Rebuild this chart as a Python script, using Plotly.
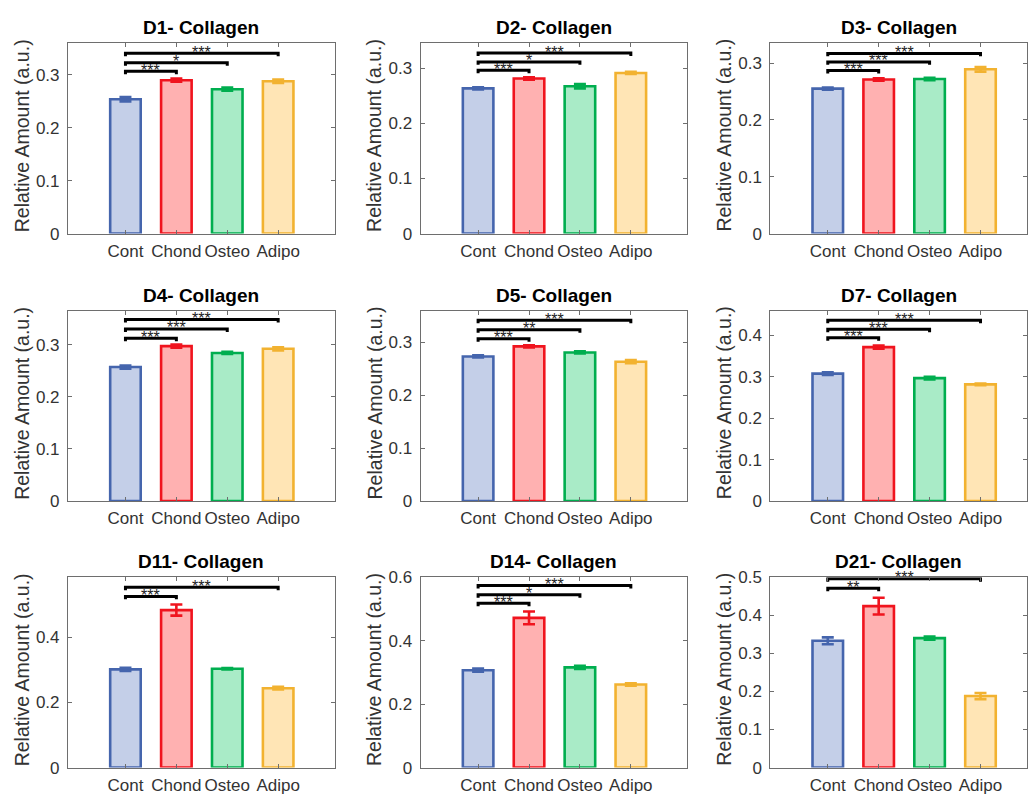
import plotly.graph_objects as go

# ---------------- data ----------------
panel_titles = ["D1- Collagen", "D2- Collagen", "D3- Collagen",
                "D4- Collagen", "D5- Collagen", "D7- Collagen",
                "D11- Collagen", "D14- Collagen", "D21- Collagen"]
categories = ["Cont", "Chond", "Osteo", "Adipo"]

cont_mean  = [0.254, 0.263, 0.255, 0.257, 0.2735, 0.308, 0.302, 0.307, 0.333]
chond_mean = [0.290, 0.281, 0.271, 0.297, 0.2925, 0.372, 0.484, 0.472, 0.424]
osteo_mean = [0.273, 0.267, 0.272, 0.284, 0.281, 0.297, 0.304, 0.316, 0.340]
adipo_mean = [0.288, 0.291, 0.289, 0.292, 0.2635, 0.282, 0.244, 0.262, 0.188]

cont_err  = [0.004, 0.002, 0.002, 0.003, 0.002, 0.003, 0.005, 0.005, 0.009]
chond_err = [0.003, 0.002, 0.002, 0.003, 0.002, 0.004, 0.017, 0.020, 0.022]
osteo_err = [0.003, 0.004, 0.002, 0.002, 0.002, 0.003, 0.002, 0.005, 0.004]
adipo_err = [0.003, 0.002, 0.004, 0.003, 0.003, 0.002, 0.004, 0.004, 0.008]

y_max   = [0.36, 0.345, 0.335, 0.365, 0.36, 0.46, 0.585, 0.6001, 0.50]
y_dtick = [0.1, 0.1, 0.1, 0.1, 0.1, 0.1, 0.2, 0.2, 0.1]

sig_targets = [[2, 3, 4], [2, 3, 4], [2, 3, 4],
               [2, 3, 4], [2, 3, 4], [2, 3, 4],
               [2, 4], [2, 3, 4], [2, 4]]
sig_heights = [[0.307, 0.323, 0.341], [0.296, 0.311, 0.327], [0.287, 0.302, 0.317],
               [0.312, 0.330, 0.348], [0.307, 0.324, 0.342], [0.3945, 0.415, 0.437],
               [0.526, 0.554], [0.518, 0.545, 0.574], [0.471, 0.496]]
sig_labels = [["***", "*", "***"], ["***", "*", "***"], ["***", "***", "***"],
              ["***", "***", "***"], ["***", "**", "***"], ["***", "***", "***"],
              ["***", "***"], ["***", "*", "***"], ["**", "***"]]

# ---------------- style ----------------
edge_colors = ["#4565AD", "#F0141E", "#00AE4F", "#F2B230"]
fill_colors = ["#C4CFE8", "#FFB1B1", "#A9EBC7", "#FFE5B5"]
FONT = "Liberation Sans, Arial, sans-serif"
W, H = 1028, 803
col_left = [68, 421, 771]
row_top = [35, 309, 582]
AX_W, AX_H = 267, 195
X_LO, X_HI = -0.13, 5.11

means = [cont_mean, chond_mean, osteo_mean, adipo_mean]
errs = [cont_err, chond_err, osteo_err, adipo_err]

fig = go.Figure()
layout_axes = {}
annotations = []

for p in range(9):
    r, c = divmod(p, 3)
    xa = "x" if p == 0 else f"x{p+1}"
    ya = "y" if p == 0 else f"y{p+1}"
    left = col_left[c]
    right = min(left + AX_W, W)
    x_hi = X_LO + (right - left) / AX_W * (X_HI - X_LO)
    top = row_top[r]
    xdom = [left / W, right / W]
    ydom = [1 - (top + AX_H) / H, 1 - top / H]

    for k in range(4):
        fig.add_trace(go.Bar(
            x=[k + 1], y=[means[k][p]], width=0.6,
            marker=dict(color=fill_colors[k], line=dict(color=edge_colors[k], width=2.6)),
            error_y=dict(type="data", array=[errs[k][p]], color=edge_colors[k],
                         thickness=2.6, width=6),
            xaxis=xa, yaxis=ya, showlegend=False, hoverinfo="skip"))

    d = 3.0 / AX_H * y_max[p]
    for tgt, h, lab in zip(sig_targets[p], sig_heights[p], sig_labels[p]):
        fig.add_trace(go.Scatter(
            x=[1, 1, tgt, tgt], y=[h - d, h, h, h - d], mode="lines",
            line=dict(color="black", width=3), xaxis=xa, yaxis=ya,
            showlegend=False, hoverinfo="skip"))
        annotations.append(dict(
            x=(1 + tgt) / 2, y=h, xref=xa, yref=ya, text=lab, showarrow=False,
            xanchor="center", yanchor="middle", yshift=1,
            font=dict(family=FONT, size=16, color="#222222")))

    # panel title
    annotations.append(dict(
        x=0.5, y=1, xref=f"{xa} domain", yref=f"{ya} domain",
        text=f"<b>{panel_titles[p]}</b>", showarrow=False,
        xanchor="center", yanchor="bottom", yshift=3,
        font=dict(family=FONT, size=19, color="black")))
    # y-axis title
    annotations.append(dict(
        x=0, y=0.5, xref=f"{xa} domain", yref=f"{ya} domain",
        text="Relative Amount (a.u.)", showarrow=False, textangle=-90,
        xanchor="center", yanchor="middle", xshift=-46, yshift=3,
        font=dict(family=FONT, size=19.5, color="#333333")))

    axkey = "xaxis" if p == 0 else f"xaxis{p+1}"
    aykey = "yaxis" if p == 0 else f"yaxis{p+1}"
    layout_axes[axkey] = dict(
        domain=xdom, anchor=ya, range=[X_LO, x_hi],
        tickmode="array", tickvals=[1, 2, 3, 4], ticktext=categories,
        ticks="inside", ticklen=4, tickcolor="#6e6e6e", tickwidth=1,
        showline=True, linecolor="#6e6e6e", linewidth=1, mirror="ticks",
        showgrid=False, zeroline=False, fixedrange=True,
        tickfont=dict(family=FONT, size=17, color="#333333"),
        ticklabelstandoff=2)
    layout_axes[aykey] = dict(
        domain=ydom, anchor=xa, range=[0, y_max[p]],
        tick0=0, dtick=y_dtick[p],
        ticks="inside", ticklen=4, tickcolor="#6e6e6e", tickwidth=1,
        showline=True, linecolor="#6e6e6e", linewidth=1, mirror="ticks",
        showgrid=False, zeroline=False, fixedrange=True,
        tickfont=dict(family=FONT, size=17, color="#333333"),
        ticklabelstandoff=4)

fig.update_layout(
    width=W, height=H, margin=dict(l=0, r=0, t=0, b=0),
    paper_bgcolor="white", plot_bgcolor="white",
    barmode="overlay", showlegend=False,
    annotations=annotations, **layout_axes)

fig.write_html("out.html")
